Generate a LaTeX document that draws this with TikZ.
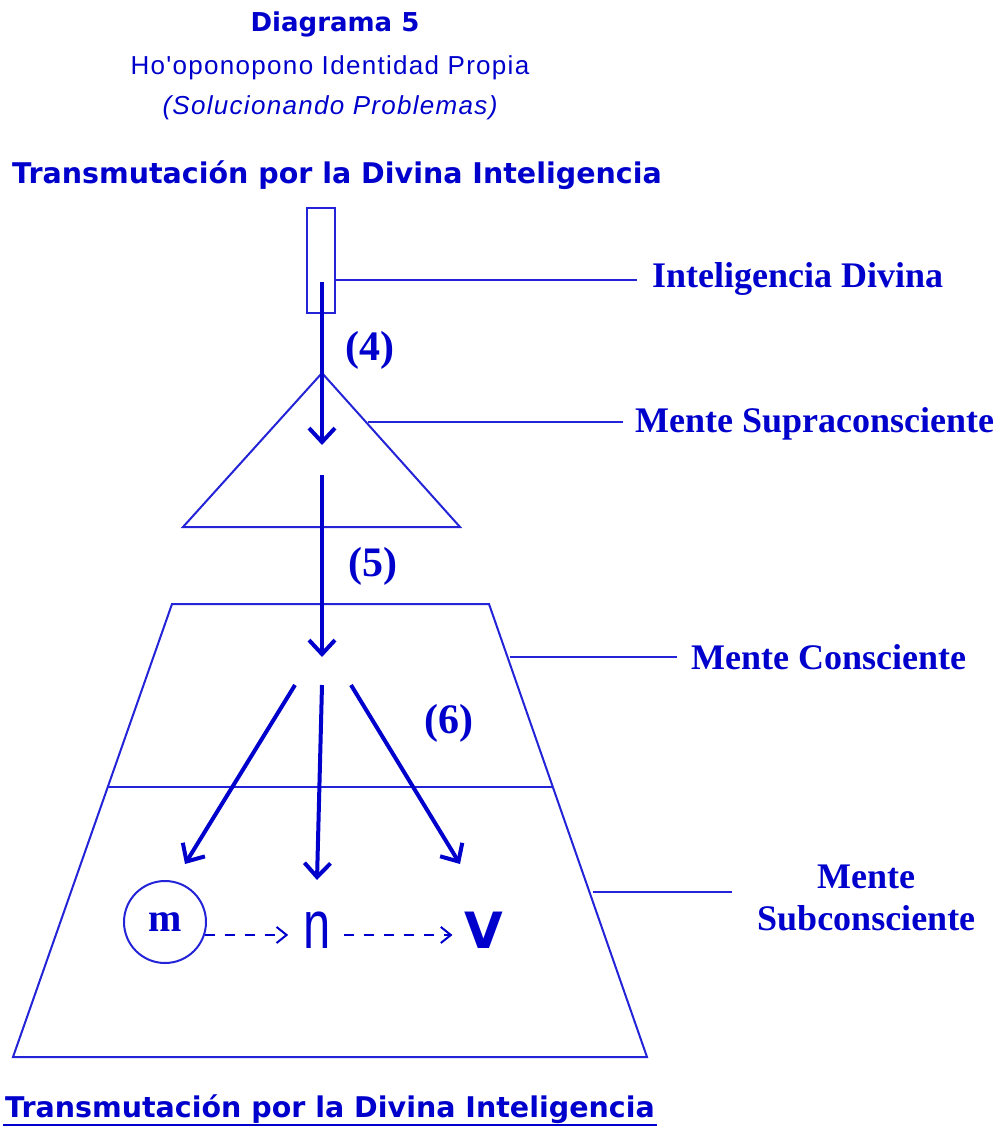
\documentclass[tikz,border=0pt]{standalone}
\usepackage{fontspec}
\setmainfont{Liberation Serif}
\newfontfamily\titfont{DejaVu Sans}
\newfontfamily\subfont[LetterSpace=5]{Liberation Sans}
\newfontfamily\letrafont{Liberation Sans}
\usetikzlibrary{arrows.meta,positioning,calc}

\definecolor{azul}{RGB}{0,0,204}
\definecolor{trazo}{RGB}{35,35,215}

\tikzset{
  forma/.style={draw=trazo, line width=2pt},
  guia/.style={draw=trazo, line width=2pt},
  flecha/.style={azul, line width=4pt, -{Straight Barb[length=14pt,width=26pt]}},
  punteada/.style={azul, line width=2pt, dash pattern=on 10pt off 10pt, -{Straight Barb[length=10pt,width=16pt]}},
  etiqueta/.style={text=azul, font=\fontsize{36}{42}\selectfont\bfseries, inner ysep=0pt},
  numero/.style={text=azul, font=\fontsize{42}{48}\selectfont\bfseries, inner sep=0pt},
  trans/.style={text=azul, font=\titfont\bfseries\fontsize{28.5}{32}\selectfont, inner sep=0pt},
}

\begin{document}
\begin{tikzpicture}[x=1pt,y=-1pt]
\useasboundingbox (0,0) rectangle (1003,1129);

%% titulos
\node[text=azul, font=\titfont\bfseries\fontsize{26}{30}\selectfont, anchor=base] (diag) at (335,32) {Diagrama 5};
\node[text=azul, font=\subfont\fontsize{26}{30}\selectfont, anchor=base] (hoo) at (330,75) {Ho'oponopono Identidad Propia};
\node[text=azul, font=\subfont\itshape\fontsize{26}{30}\selectfont, anchor=base] (sol) at (330,115) {(Solucionando Problemas)};
\node[trans, anchor=base west] (transA) at (12,183) {Transmutación por la Divina Inteligencia};

%% figuras
\node[forma, minimum width=28, minimum height=105, inner sep=0] (rect) at (321,260.5) {};
\coordinate (apice) at (322,373);
\draw[forma] (apice) -- (460,527) -- (183,527) -- cycle;
\draw[forma] (172,604) -- (489,604) -- (647,1057) -- (13,1057) -- cycle;
\draw[forma] (108,787) -- (553,787);

%% etiquetas
\node[etiqueta, anchor=base west, inner xsep=15] (intdiv) at (637,287) {Inteligencia Divina};
\node[etiqueta, anchor=base west, inner xsep=12] (supra) at (623,432) {Mente Supraconsciente};
\node[etiqueta, anchor=base west, inner xsep=14] (consc) at (677,669) {Mente Consciente};
\node[etiqueta, align=center, anchor=west, inner xsep=25] (subc) at (732,898) {Mente\\Subconsciente};

\coordinate (pA) at (335,280);
\coordinate (pB) at (368,422);
\coordinate (pC) at (510,657);
\coordinate (pD) at (593,892);
\draw[guia] (pA) -- (pA -| intdiv.west);
\draw[guia] (pB) -- (pB -| supra.west);
\draw[guia] (pC) -- (pC -| consc.west);
\draw[guia] (pD) -- (pD -| subc.west);

%% flechas
\coordinate (s1) at (322,282);
\coordinate (e1) at (322,445);
\coordinate (s2) at (322,475);
\coordinate (e2) at (322,657);
\coordinate (s3) at (295,685);
\coordinate (e3) at (185,864);
\coordinate (s4) at (322,685);
\coordinate (e4) at (317,880);
\coordinate (s5) at (351,685);
\coordinate (e5) at (460,864);
\draw[flecha] (s1) -- (e1);
\draw[flecha] (s2) -- (e2);
\draw[flecha] (s3) -- (e3);
\draw[flecha] (s4) -- (e4);
\draw[flecha] (s5) -- (e5);

\node[numero] (n4) at (370,350) {(4)};
\node[numero] (n5) at (373,566) {(5)};
\node[numero] (n6) at (449,723) {(6)};

%% m n V
\node[forma, circle, minimum size=82, inner sep=0, text=azul, font=\fontsize{40}{40}\selectfont\bfseries] (circ) at (165,922) {m};
\node[text=azul, font=\letrafont\fontsize{68}{68}\selectfont, inner sep=0, anchor=base] (nn) at (317,948) {\scalebox{0.72}[1]{n}};
\node[text=azul, font=\titfont\bfseries\fontsize{50}{50}\selectfont, inner sep=0, anchor=base] (vv) at (484,948) {V};
\draw[punteada, shorten >=15pt] (circ.-18) -- (circ.-18 -| nn.west);
\draw[punteada, shorten <=13pt, shorten >=12pt] (circ.-18 -| nn.east) -- (circ.-18 -| vv.west);

%% pie
\node[trans, anchor=base west] (transB) at (5,1117) {Transmutación por la Divina Inteligencia};
\draw[azul, line width=2.5pt] ($(transB.base west)+(-2,8)$) -- ($(transB.base east)+(2,8)$);

\end{tikzpicture}
\end{document}
